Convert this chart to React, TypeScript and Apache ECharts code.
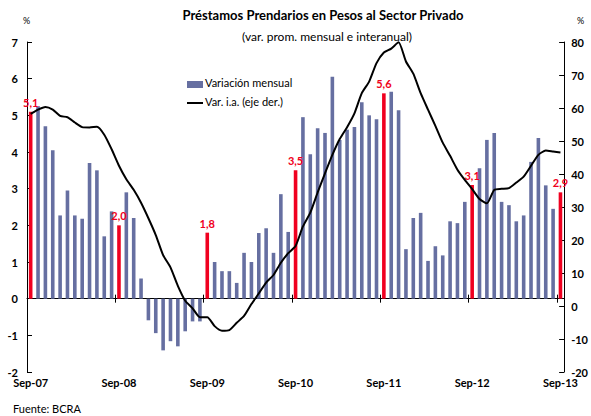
import React, { useEffect, useRef } from "react";
import * as echarts from "echarts";

const monthNames = ["Ene", "Feb", "Mar", "Abr", "May", "Jun", "Jul", "Ago", "Sep", "Oct", "Nov", "Dic"];
const categories: string[] = [];
for (let k = 0; k < 73; k++) {
  const m = (8 + k) % 12;
  const y = 7 + Math.floor((8 + k) / 12);
  categories.push(`${monthNames[m]}-${String(y).padStart(2, "0")}`);
}

const highlighted = ["Sep-07", "Sep-08", "Sep-09", "Sep-10", "Sep-11", "Sep-12", "Sep-13"];

const monthlyVar = [
  5.1, 5.25, 4.7, 4.05, 2.27, 2.95, 2.27, 2.18, 3.7, 3.5, 1.7, 2.38,
  2.0, 2.9, 2.2, 0.55, -0.59, -0.94, -1.41, -1.16, -1.3, -0.89, -0.62, -0.62,
  1.8, 1.0, 0.75, 0.75, 0.43, 1.25, 1.0, 1.79, 1.92, 1.25, 2.85, 1.82,
  3.5, 4.95, 3.94, 4.65, 4.52, 6.05, 4.33, 4.61, 4.68, 5.36, 5.0, 4.89,
  5.6, 5.64, 5.14, 1.35, 2.2, 2.34, 1.03, 1.43, 1.18, 2.11, 2.06, 2.64,
  3.1, 3.56, 4.33, 4.52, 2.64, 2.55, 2.11, 2.27, 3.73, 4.38, 3.09, 2.45,
  2.9,
];

const yoyVar = [
  58.2, 59.5, 60.3, 59.5, 57.6, 57.2, 55.6, 54.2, 54.1, 54.3, 51.9, 47.5,
  42.5, 38.4, 35.2, 31.3, 26.6, 21.5, 15.4, 11.7, 6.1, 1.6, -0.7, -3.4,
  -3.4, -6.1, -7.5, -7.3, -5.1, -3.0, 0.6, 3.8, 7.1, 9.4, 13.1, 16.0,
  18.2, 24.1, 28.3, 34.4, 40.2, 45.8, 50.6, 54.2, 58.4, 64.5, 68.0, 73.6,
  76.8, 78.0, 79.9, 74.1, 70.4, 64.5, 59.5, 54.6, 49.5, 45.5, 41.3, 38.2,
  35.4, 32.4, 31.1, 35.2, 35.5, 35.7, 37.4, 39.2, 42.5, 45.8, 47.1, 46.8,
  46.5,
];

const seriesNames = ["Variación mensual", "Var. i.a. (eje der.)"];

const FONT = "Lato, 'Open Sans', sans-serif";
const BLUE = "#666fa1";
const RED = "#f00020";

export default function App() {
  const ref = useRef<HTMLDivElement>(null);
  useEffect(() => {
    if (!ref.current) return;
    const chart = echarts.init(ref.current, undefined, { renderer: "svg" });
    const barData = monthlyVar.map((v, i) => {
      if (highlighted.includes(categories[i])) {
        return {
          value: v,
          itemStyle: { color: RED },
          label: {
            show: true,
            position: "top",
            distance: 4,
            color: RED,
            fontFamily: FONT,
            fontWeight: "bold",
            fontSize: 11,
            formatter: (p: any) => Number(p.value).toFixed(1).replace(".", ","),
          },
        };
      }
      return v;
    });
    const axisLabelStyle = { color: "#000", fontFamily: FONT, fontWeight: "bold" as const, fontSize: 11 };
    const smallText = (text: string, left: number, top: number, size: number) => ({
      text,
      left,
      top,
      textStyle: { fontFamily: FONT, fontWeight: "normal", fontSize: size, color: "#000" },
    });
    chart.setOption({
      animation: false,
      textStyle: { fontFamily: FONT },
      title: [
        {
          text: "Préstamos Prendarios en Pesos al Sector Privado",
          left: 318,
          top: 3,
          textAlign: "center",
          textStyle: { fontFamily: FONT, fontWeight: "bold", fontSize: 13, color: "#000" },
        },
        {
          text: "(var. prom. mensual e interanual)",
          left: 322,
          top: 25,
          textAlign: "center",
          textStyle: { fontFamily: FONT, fontWeight: "normal", fontSize: 12, color: "#000" },
        },
        smallText("%", 18, 11, 9),
        smallText("%", 572, 11, 9),
        smallText("Fuente: BCRA", 8, 398, 11),
      ],
      graphic: [
        { type: "rect", left: 187, top: 81, shape: { width: 16, height: 7 }, style: { fill: BLUE } },
        {
          type: "text",
          left: 205,
          top: 77,
          style: { text: seriesNames[0], fontFamily: FONT, fontSize: 11, fill: "#000" },
        },
        {
          type: "line",
          shape: { x1: 187, y1: 103, x2: 203, y2: 103 },
          style: { stroke: "#000", lineWidth: 2 },
        },
        {
          type: "text",
          left: 205,
          top: 96,
          style: { text: seriesNames[1], fontFamily: FONT, fontSize: 11, fill: "#000" },
        },
      ],
      grid: { left: 27, right: 18, top: 42, bottom: 44, containLabel: false },
      xAxis: [
        {
          type: "category",
          data: categories,
          position: "bottom",
          axisLine: { show: true, onZero: true, onZeroAxisIndex: 0, lineStyle: { color: "#000", width: 1 } },
          axisTick: { show: true, interval: 11, inside: false, length: 4, lineStyle: { color: "#000" } },
          axisLabel: { show: false },
          splitLine: { show: false },
        },
        {
          type: "category",
          data: categories,
          position: "bottom",
          axisLine: { show: false, onZero: false },
          axisTick: { show: false },
          axisLabel: { ...axisLabelStyle, interval: 11, margin: 5 },
          splitLine: { show: false },
        },
        {
          type: "category",
          data: categories,
          position: "bottom",
          axisLine: { show: false, onZero: true, onZeroAxisIndex: 0 },
          axisTick: { show: true, interval: 11, inside: true, length: 4, lineStyle: { color: "#000" } },
          axisLabel: { show: false },
          splitLine: { show: false },
        },
      ],
      yAxis: [
        {
          type: "value",
          min: -2,
          max: 7,
          interval: 1,
          position: "left",
          axisLine: { show: true, lineStyle: { color: "#000", width: 1 } },
          axisTick: { show: true, inside: true, length: 5, lineStyle: { color: "#000" } },
          axisLabel: { ...axisLabelStyle, margin: 9 },
          splitLine: { show: false },
        },
        {
          type: "value",
          min: -20,
          max: 80,
          interval: 10,
          position: "right",
          axisLine: { show: true, lineStyle: { color: "#000", width: 1 } },
          axisTick: { show: true, inside: true, length: 5, lineStyle: { color: "#000" } },
          axisLabel: { ...axisLabelStyle, margin: 7 },
          splitLine: { show: false },
        },
      ],
      series: [
        {
          name: seriesNames[0],
          type: "bar",
          xAxisIndex: 0,
          yAxisIndex: 0,
          data: barData,
          barWidth: 3.6,
          itemStyle: { color: BLUE },
          z: 2,
        },
        {
          name: seriesNames[1],
          type: "line",
          xAxisIndex: 0,
          yAxisIndex: 1,
          data: yoyVar,
          symbol: "none",
          smooth: 0.2,
          lineStyle: { color: "#000", width: 2 },
          itemStyle: { color: "#000" },
          z: 3,
        },
      ],
    });
    return () => chart.dispose();
  }, []);
  return (
    <div
      ref={ref}
      style={{ position: "absolute", left: 0, top: 0, width: 591, height: 416, background: "#fff" }}
    />
  );
}
